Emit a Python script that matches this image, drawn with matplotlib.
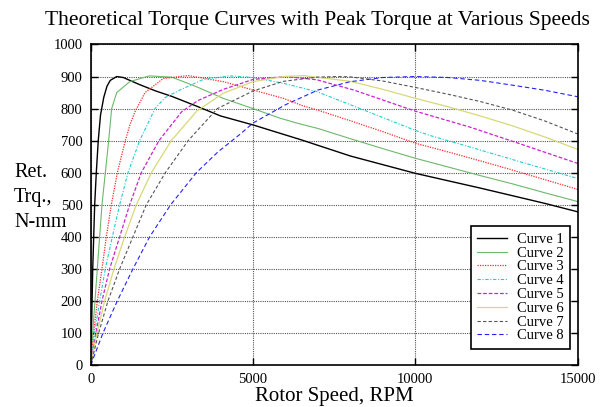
import matplotlib
matplotlib.use("Agg")
import matplotlib.pyplot as plt

plt.rcParams['font.family'] = ['Liberation Serif', 'DejaVu Serif']

# ---- data ----
c1_rpm = [0, 40, 60, 90, 120, 170, 230, 300, 400, 500, 600, 800, 1000, 1500, 2000, 2500, 3300, 4000, 5000, 6500, 8000, 9000, 10000, 11000, 12000, 13000, 14000, 15000]
c1_trq = [0, 200, 300, 400, 500, 600, 700, 780, 835, 870, 888, 900, 897, 875, 855, 838, 806, 777, 749, 702, 652, 625, 598, 575, 552, 528, 504, 478]

c2_rpm = [0, 58, 129, 201, 273, 345, 448, 551, 643, 800, 1200, 1800, 2500, 3260, 4080, 5000, 5830, 6450, 7000, 8000, 9000, 10000, 11000, 12000, 13000, 14000, 15000]
c2_trq = [0, 100, 200, 300, 400, 500, 600, 700, 800, 850, 884, 902, 898, 868, 832, 800, 770, 752, 738, 706, 675, 645, 618, 591, 565, 537, 510]

c3_rpm = [0, 88, 201, 345, 479, 633, 818, 1064, 1208, 1361, 1672, 2235, 3000, 4084, 5000, 5934, 6500, 7000, 8000, 9000, 10000, 11000, 12000, 13000, 14000, 15000]
c3_trq = [0, 100, 200, 300, 400, 500, 600, 700, 750, 790, 850, 894, 903, 884, 858, 832, 810, 795, 762, 728, 692, 665, 637, 608, 578, 548]

c4_rpm = [0, 119, 273, 448, 664, 890, 1146, 1506, 1978, 2300, 2749, 3468, 4290, 5000, 5934, 6961, 8000, 9000, 10000, 10454, 11690, 13230, 15000]
c4_trq = [0, 100, 200, 300, 400, 500, 600, 700, 800, 835, 858, 891, 902, 897, 879, 853, 812, 772, 732, 716, 680, 634, 582]

c5_rpm = [0, 160, 345, 581, 890, 1198, 1557, 2100, 2800, 3300, 4084, 5000, 6000, 6961, 8100, 10000, 11690, 13230, 15000]
c5_trq = [0, 100, 200, 300, 400, 500, 600, 700, 790, 825, 860, 891, 900, 890, 858, 792, 742, 690, 629]

c6_rpm = [0, 191, 427, 715, 1044, 1403, 1866, 2480, 3263, 4084, 5000, 5934, 6550, 8000, 9000, 10000, 11000, 12000, 13000, 14000, 15000]
c6_trq = [0, 100, 200, 300, 400, 500, 600, 700, 792, 848, 884, 900, 903, 885, 860, 832, 806, 777, 746, 711, 673]

c7_rpm = [0, 242, 530, 890, 1300, 1711, 2297, 3000, 3900, 5000, 5934, 6961, 7578, 8000, 9000, 10000, 11000, 12000, 13000, 14000, 15000]
c7_trq = [0, 100, 200, 300, 400, 500, 600, 700, 800, 855, 885, 898, 900, 899, 886, 866, 845, 822, 795, 761, 721]

c8_rpm = [0, 376, 818, 1300, 1814, 2461, 3252, 3920, 4600, 5000, 6000, 7000, 8000, 9000, 10000, 11000, 12000, 13000, 14000, 15000]
c8_trq = [0, 100, 200, 300, 400, 500, 600, 665, 720, 755, 812, 858, 884, 897, 900, 897, 888, 873, 857, 837]

labels = ['Curve 1', 'Curve 2', 'Curve 3', 'Curve 4', 'Curve 5', 'Curve 6', 'Curve 7', 'Curve 8']
x_ticks = [0, 5000, 10000, 15000]
y_ticks = list(range(0, 1001, 100))
ylabel_lines = ['Ret.', 'Trq.,', 'N-mm']

series = [(c1_rpm, c1_trq), (c2_rpm, c2_trq), (c3_rpm, c3_trq), (c4_rpm, c4_trq),
          (c5_rpm, c5_trq), (c6_rpm, c6_trq), (c7_rpm, c7_trq), (c8_rpm, c8_trq)]
styles = [
    dict(color='black', linestyle='-', linewidth=1.0),
    dict(color='#6cb86c', linestyle='-', linewidth=0.8),
    dict(color='#ff2a2a', linestyle=(0, (1, 1)), linewidth=0.9),
    dict(color='#22cccc', linestyle=(0, (3, 1.5, 1, 1.5)), linewidth=0.8),
    dict(color='#cc22cc', linestyle=(0, (3, 1.5)), linewidth=0.9),
    dict(color='#d8d878', linestyle='-', linewidth=0.9),
    dict(color='#555555', linestyle=(0, (3, 2)), linewidth=0.8),
    dict(color='#2222ff', linestyle=(0, (4, 2.5)), linewidth=0.8),
]

fig = plt.figure(figsize=(6.04, 4.07), dpi=100)
ax = fig.add_axes([0.1503, 0.1032, 0.806, 0.7875])

for (xs, ys), st, lab in zip(series, styles, labels):
    ax.plot(xs, ys, label=lab, **st)

ax.set_xlim(0, 15000)
ax.set_ylim(0, 1000)
ax.set_xticks(x_ticks)
ax.set_yticks(y_ticks)
ax.set_xticklabels([str(v) for v in x_ticks])
ax.set_yticklabels([str(v) for v in y_ticks])
ax.tick_params(direction='in', length=5, width=1.0, top=True, right=True,
               labelsize=10.5, pad=6)
ax.grid(True, color='#555555', linestyle=(0, (1, 1)), linewidth=0.8)
for sp in ax.spines.values():
    sp.set_linewidth(1.2)

leg = ax.legend(loc='lower right', bbox_to_anchor=(0.9846, 0.05), borderaxespad=0,
                fontsize=10.5, frameon=True, fancybox=False, edgecolor='black',
                framealpha=1, handlelength=2.0, handletextpad=0.7,
                labelspacing=0.04, borderpad=0.45)
leg.get_frame().set_linewidth(1.2)

fig.text(317 / 604, 1 - 21 / 407, 'Theoretical Torque Curves with Peak Torque at Various Speeds',
         ha='center', va='center', fontsize=15.5)
for line, base in zip(ylabel_lines, [177, 202, 227]):
    fig.text(14 / 604, 1 - base / 407, line, ha='left', va='baseline', fontsize=14.5)
fig.text(334 / 604, 1 - 401 / 407, 'Rotor Speed, RPM', ha='center', va='baseline', fontsize=15)

fig.savefig('out.png', dpi=100)
